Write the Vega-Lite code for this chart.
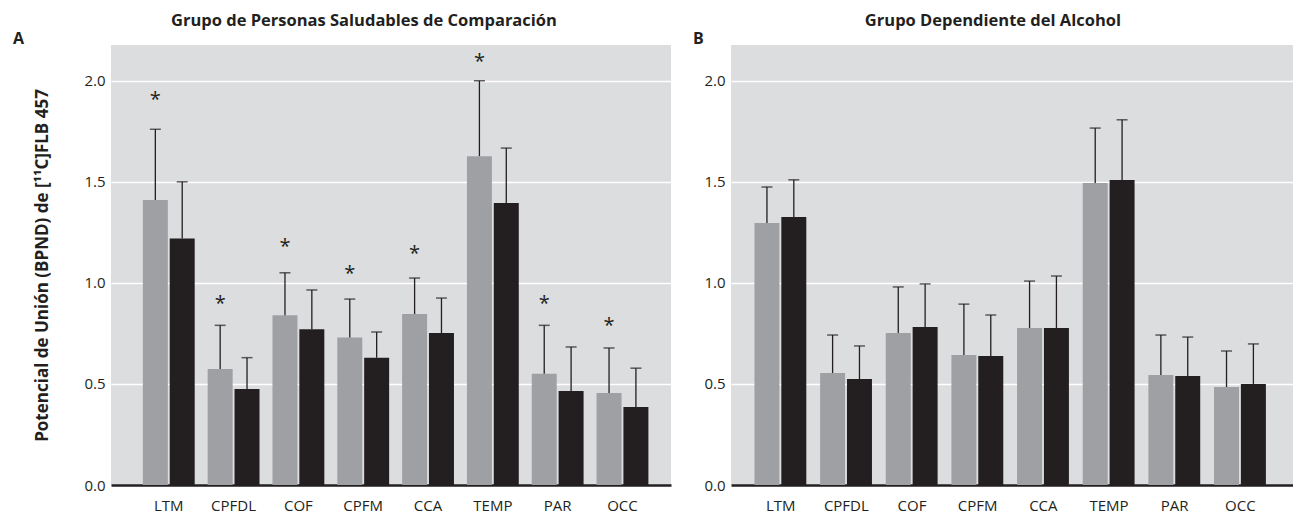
{
  "$schema": "https://vega.github.io/schema/vega-lite/v6.json",
  "background": "white",
  "padding": {"left": 12, "top": 12, "right": 0, "bottom": 0},
  "config": {
    "view": {"fill": "#dcdddf", "stroke": null},
    "font": "Open Sans",
    "axis": {"labelFont": "Open Sans", "labelFontSize": 15, "labelColor": "#231f20", "ticks": false, "gridColor": "#ffffff", "gridWidth": 1.5, "gridOpacity": 1, "titleFont": "Open Sans", "titleColor": "#231f20"},
    "axisX": {"domainColor": "#231f20", "domainWidth": 2.5, "labelPadding": 13, "grid": false, "labelAngle": 0, "zindex": 1},
    "axisY": {"domain": false, "labelPadding": 6, "zindex": 0},
    "title": {"font": "Open Sans", "fontSize": 16.5, "fontWeight": "bold", "color": "#231f20"},
    "concat": {"spacing": 21}
  },
  "datasets": {
    "d": [
      {"panel": "A", "region": "LTM", "cond": "g", "val": 1.41, "err": 1.76, "star": 1.93},
      {"panel": "A", "region": "LTM", "cond": "b", "val": 1.22, "err": 1.50, "star": null},
      {"panel": "A", "region": "CPFDL", "cond": "g", "val": 0.574, "err": 0.79, "star": 0.92},
      {"panel": "A", "region": "CPFDL", "cond": "b", "val": 0.475, "err": 0.63, "star": null},
      {"panel": "A", "region": "COF", "cond": "g", "val": 0.84, "err": 1.05, "star": 1.20},
      {"panel": "A", "region": "COF", "cond": "b", "val": 0.77, "err": 0.965, "star": null},
      {"panel": "A", "region": "CPFM", "cond": "g", "val": 0.73, "err": 0.92, "star": 1.07},
      {"panel": "A", "region": "CPFM", "cond": "b", "val": 0.63, "err": 0.757, "star": null},
      {"panel": "A", "region": "CCA", "cond": "g", "val": 0.846, "err": 1.024, "star": 1.17},
      {"panel": "A", "region": "CCA", "cond": "b", "val": 0.752, "err": 0.925, "star": null},
      {"panel": "A", "region": "TEMP", "cond": "g", "val": 1.627, "err": 2.0, "star": 2.12},
      {"panel": "A", "region": "TEMP", "cond": "b", "val": 1.395, "err": 1.667, "star": null},
      {"panel": "A", "region": "PAR", "cond": "g", "val": 0.55, "err": 0.79, "star": 0.92},
      {"panel": "A", "region": "PAR", "cond": "b", "val": 0.465, "err": 0.683, "star": null},
      {"panel": "A", "region": "OCC", "cond": "g", "val": 0.455, "err": 0.678, "star": 0.81},
      {"panel": "A", "region": "OCC", "cond": "b", "val": 0.386, "err": 0.578, "star": null},
      {"panel": "B", "region": "LTM", "cond": "g", "val": 1.296, "err": 1.474, "star": null},
      {"panel": "B", "region": "LTM", "cond": "b", "val": 1.326, "err": 1.51, "star": null},
      {"panel": "B", "region": "CPFDL", "cond": "g", "val": 0.554, "err": 0.742, "star": null},
      {"panel": "B", "region": "CPFDL", "cond": "b", "val": 0.524, "err": 0.688, "star": null},
      {"panel": "B", "region": "COF", "cond": "g", "val": 0.752, "err": 0.98, "star": null},
      {"panel": "B", "region": "COF", "cond": "b", "val": 0.782, "err": 0.995, "star": null},
      {"panel": "B", "region": "CPFM", "cond": "g", "val": 0.643, "err": 0.895, "star": null},
      {"panel": "B", "region": "CPFM", "cond": "b", "val": 0.638, "err": 0.841, "star": null},
      {"panel": "B", "region": "CCA", "cond": "g", "val": 0.777, "err": 1.009, "star": null},
      {"panel": "B", "region": "CCA", "cond": "b", "val": 0.777, "err": 1.034, "star": null},
      {"panel": "B", "region": "TEMP", "cond": "g", "val": 1.494, "err": 1.766, "star": null},
      {"panel": "B", "region": "TEMP", "cond": "b", "val": 1.509, "err": 1.807, "star": null},
      {"panel": "B", "region": "PAR", "cond": "g", "val": 0.544, "err": 0.742, "star": null},
      {"panel": "B", "region": "PAR", "cond": "b", "val": 0.539, "err": 0.732, "star": null},
      {"panel": "B", "region": "OCC", "cond": "g", "val": 0.485, "err": 0.663, "star": null},
      {"panel": "B", "region": "OCC", "cond": "b", "val": 0.5, "err": 0.698, "star": null}
    ]
  },
  "hconcat": [
    {
      "title": {"text": "Grupo de Personas Saludables de Comparación", "anchor": "middle", "offset": 2, "dx": 22},
      "vconcat": [
        {
          "title": {"text": "A", "anchor": "start", "frame": "bounds", "dx": -21, "offset": -2, "fontSize": 16},
          "width": 560,
          "height": 440,
          "data": {"name": "d"},
          "transform": [{"filter": "datum.panel == 'A'"}],
          "encoding": {
            "x": {"field": "region", "type": "nominal", "sort": ["LTM", "CPFDL", "COF", "CPFM", "CCA", "TEMP", "PAR", "OCC"], "title": null,
                  "scale": {"paddingInner": 0.2, "paddingOuter": 0.42, "align": 0.585}},
            "xOffset": {"field": "cond", "type": "nominal", "sort": ["g", "b"], "scale": {"paddingInner": 0.07, "paddingOuter": 0}}
          },
          "layer": [
            {
              "mark": {"type": "bar"},
              "encoding": {
                "y": {"field": "val", "type": "quantitative", "scale": {"domain": [0, 2.177], "nice": false},
                      "axis": {"values": [0, 0.5, 1, 1.5, 2], "format": ".1f", "title": "Potencial de Unión (BPND) de [¹¹C]FLB 457", "titleFontSize": 17, "titleFontWeight": "bold", "titlePadding": 32}},
                "color": {"field": "cond", "type": "nominal", "scale": {"domain": ["g", "b"], "range": ["#9fa0a4", "#231f20"]}, "legend": null}
              }
            },
            {
              "mark": {"type": "rule", "color": "#231f20", "strokeWidth": 1.3},
              "encoding": {"y": {"field": "val", "type": "quantitative"}, "y2": {"field": "err"}}
            },
            {
              "mark": {"type": "tick", "color": "#231f20", "size": 11, "thickness": 1.5},
              "encoding": {"y": {"field": "err", "type": "quantitative"}}
            },
            {
              "transform": [{"filter": "datum.star != null"}],
              "mark": {"type": "text", "text": "*", "fontSize": 20, "color": "#231f20", "baseline": "middle", "dy": 5},
              "encoding": {"y": {"field": "star", "type": "quantitative"}}
            }
          ]
        }
      ]
    },
    {
      "title": {"text": "Grupo Dependiente del Alcohol", "anchor": "middle", "offset": 2, "dx": 0},
      "vconcat": [
        {
          "title": {"text": "B", "anchor": "start", "frame": "bounds", "dx": -11, "offset": -2, "fontSize": 16},
          "width": 562,
          "height": 440,
          "data": {"name": "d"},
          "transform": [{"filter": "datum.panel == 'B'"}],
          "encoding": {
            "x": {"field": "region", "type": "nominal", "sort": ["LTM", "CPFDL", "COF", "CPFM", "CCA", "TEMP", "PAR", "OCC"], "title": null,
                  "scale": {"paddingInner": 0.2, "paddingOuter": 0.38, "align": 0.47}},
            "xOffset": {"field": "cond", "type": "nominal", "sort": ["g", "b"], "scale": {"paddingInner": 0.07, "paddingOuter": 0}}
          },
          "layer": [
            {
              "mark": {"type": "bar"},
              "encoding": {
                "y": {"field": "val", "type": "quantitative", "scale": {"domain": [0, 2.177], "nice": false}, "axis": {"values": [0, 0.5, 1, 1.5, 2], "format": ".1f", "title": null}},
                "color": {"field": "cond", "type": "nominal", "scale": {"domain": ["g", "b"], "range": ["#9fa0a4", "#231f20"]}, "legend": null}
              }
            },
            {
              "mark": {"type": "rule", "color": "#231f20", "strokeWidth": 1.3},
              "encoding": {"y": {"field": "val", "type": "quantitative"}, "y2": {"field": "err"}}
            },
            {
              "mark": {"type": "tick", "color": "#231f20", "size": 11, "thickness": 1.5},
              "encoding": {"y": {"field": "err", "type": "quantitative"}}
            }
          ]
        }
      ]
    }
  ]
}
